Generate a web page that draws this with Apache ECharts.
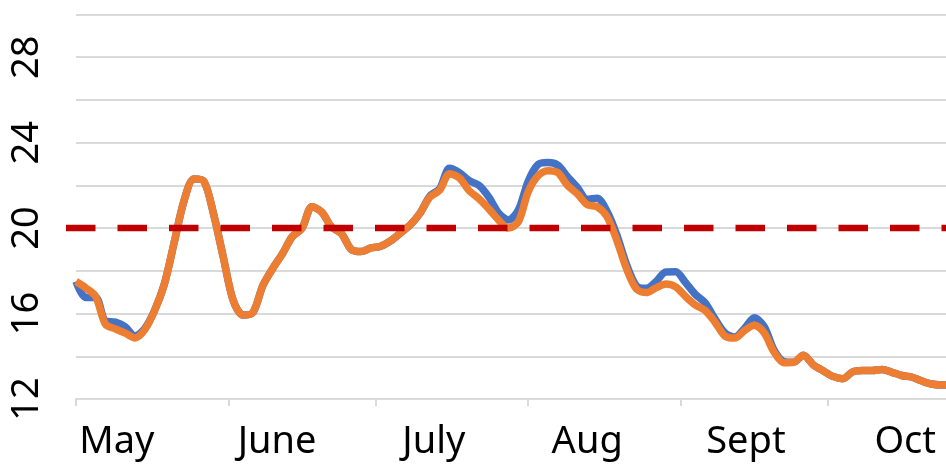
<!DOCTYPE html>
<html>
<head>
<meta charset="utf-8">
<script src="https://cdn.jsdelivr.net/npm/echarts@6/dist/echarts.min.js"></script>
<style>
html,body{margin:0;padding:0;background:#fff;}
#chart{width:946px;height:464px;}
</style>
</head>
<body>
<div id="chart"></div>
<script>
// Days counted from May 1; one sample every 2 days
var dayStep = 2;
var monthLabels = ['May', 'June', 'July', 'Aug', 'Sept', 'Oct'];
var monthStartDays = [0, 31, 61, 92, 123, 153];
var labelDays = [8.3, 40.9, 72.8, 104, 136.3, 168.7];
var yTickLabels = [12, 16, 20, 24, 28];
var threshold = 20;

var blueSeries = [
  17.5,16.75,16.75,15.65,15.6,15.38,14.95,15.3,16.15,17.4,
  19.35,21.3,22.3,22.2,20.65,18.6,16.6,15.93,16.05,17.3,
  18.1,18.8,19.6,20.0,21.0,20.75,20.05,19.75,19.0,18.9,
  19.07,19.15,19.4,19.77,20.15,20.7,21.5,21.85,22.8,22.6,
  22.22,22.0,21.45,20.7,20.38,20.85,22.2,22.98,23.07,22.95,
  22.4,21.9,21.35,21.4,20.8,19.7,18.3,17.3,17.18,17.5,
  17.95,17.96,17.45,16.9,16.5,15.75,15.1,14.9,15.3,15.8,
  15.4,14.3,13.75,13.72,14.05,13.6,13.32,13.06,12.95,13.27,
  13.33,13.33,13.38,13.25,13.1,13.03,12.85,12.7,12.66,12.66
];
var orangeSeries = [
  17.5,17.2,16.8,15.5,15.28,15.08,14.86,15.25,16.15,17.4,
  19.35,21.3,22.3,22.2,20.65,18.6,16.6,15.93,16.05,17.3,
  18.1,18.8,19.6,20.0,21.0,20.75,20.05,19.75,19.0,18.9,
  19.07,19.15,19.4,19.77,20.15,20.7,21.45,21.78,22.55,22.35,
  21.75,21.38,20.9,20.37,20.0,20.3,21.7,22.45,22.69,22.6,
  22.0,21.6,21.1,21.0,20.55,19.45,18.1,17.15,16.98,17.2,
  17.38,17.25,16.8,16.4,16.15,15.6,14.95,14.85,15.2,15.45,
  15.1,14.2,13.7,13.72,14.05,13.6,13.32,13.06,12.95,13.27,
  13.33,13.33,13.38,13.25,13.1,13.03,12.85,12.7,12.66,12.66
];

function toPairs(arr){ return arr.map(function(v,i){ return [i*dayStep, v]; }); }

var chart = echarts.init(document.getElementById('chart'), null, {renderer:'canvas'});
var font = 'Noto Sans';
chart.setOption({
  animation: false,
  backgroundColor: '#ffffff',
  grid: [
    {left: 76, right: 0, top: 14.5, bottom: 65, containLabel: false},
    {left: 66, right: 0, top: 14.5, bottom: 65, containLabel: false}
  ],
  xAxis: [
    {
      type: 'value', gridIndex: 0, min: 0, max: 177,
      axisLine: {show: true, lineStyle: {color: '#d9d9d9', width: 2}},
      axisTick: {show: true, customValues: monthStartDays, length: 7, lineStyle: {color: '#d9d9d9', width: 2}},
      axisLabel: {
        customValues: labelDays, margin: 24,
        fontFamily: font, fontSize: 38, color: '#000',
        formatter: function(v){
          for (var i=0;i<labelDays.length;i++){ if (Math.abs(labelDays[i]-v) < 0.01) return monthLabels[i]; }
          return '';
        }
      },
      splitLine: {show: false}
    },
    {type: 'value', gridIndex: 1, min: 0, max: 1, show: false}
  ],
  yAxis: [
    {
      type: 'value', gridIndex: 0, min: 12, max: 30, interval: 2,
      axisLine: {show: false}, axisTick: {show: false},
      splitLine: {show: true, lineStyle: {color: '#d9d9d9', width: 2}},
      axisLabel: {customValues: yTickLabels, rotate: 90, margin: 30, fontFamily: font, fontSize: 38, color: '#000'}
    },
    {type: 'value', gridIndex: 1, min: 12, max: 30, show: false}
  ],
  series: [
    {
      name: 'Blue', type: 'line', xAxisIndex: 0, yAxisIndex: 0,
      data: toPairs(blueSeries), smooth: 0.3, symbol: 'none',
      lineStyle: {color: '#4472C4', width: 7.5}, z: 2
    },
    {
      name: 'Orange', type: 'line', xAxisIndex: 0, yAxisIndex: 0,
      data: toPairs(orangeSeries), smooth: 0.3, symbol: 'none',
      lineStyle: {color: '#ED7D31', width: 7.5}, z: 3
    },
    {
      name: 'Threshold', type: 'line', xAxisIndex: 1, yAxisIndex: 1,
      data: [[0, threshold], [1, threshold]], symbol: 'none',
      lineStyle: {color: '#C00000', width: 6.5, type: [29.5, 22], dashOffset: 0}, z: 5
    }
  ]
});
</script>
</body>
</html>
